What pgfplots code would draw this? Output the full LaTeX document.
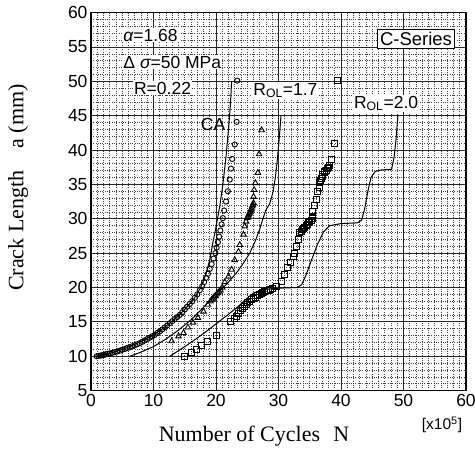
\documentclass[border=0pt]{standalone}
\usepackage{fontspec}
\setmainfont{Liberation Sans}
\newfontfamily\seriffont{Liberation Serif}
\usepackage{pgfplots}
\pgfplotsset{compat=1.18}
\tikzset{annot/.style={fill=white, inner sep=1pt, font=\fontsize{17.5}{19}\selectfont}}
\begin{document}
\begin{tikzpicture}
\begin{axis}[name=ax, scale only axis, width=375pt, height=378pt,
  xmin=0, xmax=60, ymin=5, ymax=60,
  xtick={0,10,...,60}, ytick={5,10,...,60},
  minor x tick num=9, minor y tick num=4,
  grid=both,
  major grid style={draw=black!85, line width=0.75pt},
  minor grid style={draw=black!75, line width=0.6pt, dash pattern=on 0.8pt off 1.5pt},
  axis line style={line width=1.4pt},
  major tick length=0pt, minor tick length=0pt,
  /pgf/number format/assume math mode=true,
  ticklabel style={font=\fontsize{17.5}{19}\selectfont},
  clip mode=individual,
]
% model curves
\addplot[black, line width=1pt] coordinates {(1,10)(3,10.4)(5,11)(7,11.7)(9,12.6)(11,13.7)(13,15.1)(15,16.8)(16.5,18.4)(17.5,19.9)(18.3,21.7)(19,24)(19.5,26.5)(20,28.8)(20.6,31.8)(21.1,35)(21.6,39)(22,43)(22.3,46.5)(22.5,50)};
\addplot[black, line width=1pt] coordinates {(6.2,10)(8,10.6)(10,11.4)(12,12.5)(14,13.8)(16,15.3)(18,17.1)(19.5,18.7)(20.5,19.5)(21.5,20.3)(22.5,21.3)(23.5,22.4)(24.5,23.7)(25.4,25)(26.3,26.8)(27,28.5)(27.5,30)(28,31.3)(28.6,32.2)(29.1,33.8)(29.5,36)(29.8,38.5)(30.1,41.5)(30.4,45)};
\addplot[black, line width=1pt] coordinates {(12.6,10)(14,10.8)(16,12)(18,13.3)(20,14.7)(22,16.1)(23.5,17.2)(24.8,18.3)(26,19.2)(27.5,19.7)(30,19.9)(33,20)(33.7,20.4)(34.4,21.8)(35.2,23.8)(36.2,26.2)(37.2,28.1)(38.2,29)(40,29.3)(42.6,29.4)(43.3,29.8)(43.8,31.5)(44.3,34)(44.8,36)(45.5,36.9)(46.5,37.1)(48.1,37.2)(48.5,39)(48.8,41.5)(49.1,45)};
% CA data (circles)
\addplot[only marks, mark=o, mark size=2.6pt, mark options={line width=0.9pt}] coordinates {(0.9,10)(1.2,10.05)(1.5,10.1)(1.8,10.15)(2.1,10.2)(2.4,10.3)(2.7,10.35)(3,10.4)(3.4,10.5)(3.8,10.6)(4.2,10.7)(4.6,10.8)(5,10.95)(5.4,11.05)(5.8,11.2)(6.2,11.3)(6.6,11.45)(7,11.6)(7.4,11.75)(7.8,11.9)(8.2,12.1)(8.6,12.3)(9,12.5)(9.4,12.7)(9.8,12.9)(10.2,13.1)(10.6,13.4)(11,13.6)(11.4,13.9)(11.8,14.2)(12.2,14.5)(12.6,14.8)(13,15.1)(13.4,15.4)(13.8,15.7)(14.2,16)(14.6,16.4)(15,16.8)(15.4,17.2)(15.8,17.6)(16.2,18)(16.6,18.5)(17,19)(17.4,19.6)(17.8,20.2)(18.1,20.8)(18.4,21.4)(18.7,22)(19,22.7)(19.3,23.4)(19.6,24.2)(19.9,25)(20.1,25.8)(20.3,26.6)(20.5,27.4)(20.7,28.3)(20.9,29.2)(21.1,30.1)(21.3,31.2)(21.6,32.5)(21.9,34)(22.2,35.7)(22.4,37.3)(22.6,38.7)(23,40.8)(23.3,44.1)(23.4,50.1)};
% R_OL = 1.7 data (triangles)
\addplot[only marks, mark=triangle, mark size=3.2pt, mark options={line width=0.9pt}] coordinates {(12.9,12.2)(14,12.9)(14.8,13.4)(15.5,14.2)(16.3,14.9)(17.1,15.6)(18,16.5)(18.7,17.5)(19.1,18)(19.3,18.2)(19.5,18.4)(19.7,18.6)(19.9,18.8)(20.1,19)(20.3,19.2)(20.5,19.4)(20.7,19.6)(21.0,20)(21.4,20.8)(22,21.6)(22.5,22.6)(23,24)(23.6,25.2)(23.8,26.2)(24.4,27.7)(24.6,28.9)(24.8,29.6)(25,30.1)(25.1,30.3)(25.2,30.5)(25.3,30.7)(25.4,30.9)(25.5,31.1)(25.6,31.3)(25.7,31.5)(25.8,31.8)(25.9,32)(26,32.3)(26,33.2)(26.1,34.2)(26.3,35.2)(26.7,36.7)(26.9,39.4)(27.3,42.9)};
% R_OL = 2.0 data (squares)
\addplot[only marks, mark=square, mark size=3pt, mark options={line width=0.9pt}] coordinates {(15,10)(16,10.5)(16.9,11)(17.7,11.6)(18.6,12.2)(20.1,13)(22.3,15)(23,15.5)(23.3,15.8)(23.6,16.2)(23.9,16.6)(24.2,17)(24.5,17.3)(24.8,17.6)(25.1,17.8)(25.4,18)(25.7,18.2)(26,18.4)(26.3,18.6)(26.6,18.8)(26.9,19)(27.2,19.1)(27.5,19.3)(27.8,19.4)(28.1,19.5)(28.4,19.6)(28.7,19.7)(29.1,19.9)(29.7,20.1)(30.5,20.9)(31,21.9)(31.5,22.9)(31.9,23.6)(32.4,24.5)(32.6,25)(32.9,26)(33.2,27)(33.4,28)(33.6,28.2)(33.8,28.4)(34,28.6)(34.2,28.8)(34.4,29)(34.6,29.2)(34.8,29.4)(35,29.6)(35.2,29.8)(35.4,30.1)(35.5,30.3)(35.5,31)(35.7,32)(36.1,32.8)(36.3,34)(36.5,34.6)(36.5,35.3)(36.7,35.6)(36.8,35.9)(37,36.2)(37.1,36.4)(37.3,36.7)(37.4,36.9)(37.6,37.1)(37.8,37.3)(38,37.5)(38.2,37.7)(38.5,38.6)(39,40.9)(39.5,50.1)};
% annotations
\node[annot, anchor=west] at (axis cs:5,56.7) {{\itshape α}=1.68};
\node[annot, anchor=west] at (axis cs:5,52.8) {Δ {\itshape σ}=50 MPa};
\node[annot, anchor=west] at (axis cs:6.7,49) {R=0.22};
\node[annot, anchor=west, fill=none] at (axis cs:17.4,43.7) {CA};
\node[annot, anchor=base west] at (axis cs:25.8,48.0) {R\textsubscript{OL}=1.7};
\node[annot, anchor=base west] at (axis cs:41.9,46.1) {R\textsubscript{OL}=2.0};
\node[draw=black, fill=white, line width=0.8pt, inner sep=2.5pt, font=\fontsize{18.5}{20}\selectfont] at (axis cs:52,56.2) {C-Series};
\end{axis}
\node[rotate=90, font=\seriffont\fontsize{22}{24}\selectfont] at ([xshift=-73pt,yshift=14pt]ax.west) {Crack Length\hspace{1em}a (mm)};
\node[font=\seriffont\fontsize{22}{24}\selectfont] at ([xshift=-24.5pt,yshift=-46pt]ax.south) {Number of Cycles\hspace{0.6em}N};
\node[font=\fontsize{15.5}{17}\selectfont] at ([xshift=-24pt,yshift=-34pt]ax.south east) {[x10\textsuperscript{5}]};
\pgfresetboundingbox
\path ([shift={(-91pt,-61pt)}]ax.south west) rectangle ([shift={(9pt,12.6pt)}]ax.north east);
\end{tikzpicture}
\end{document}
